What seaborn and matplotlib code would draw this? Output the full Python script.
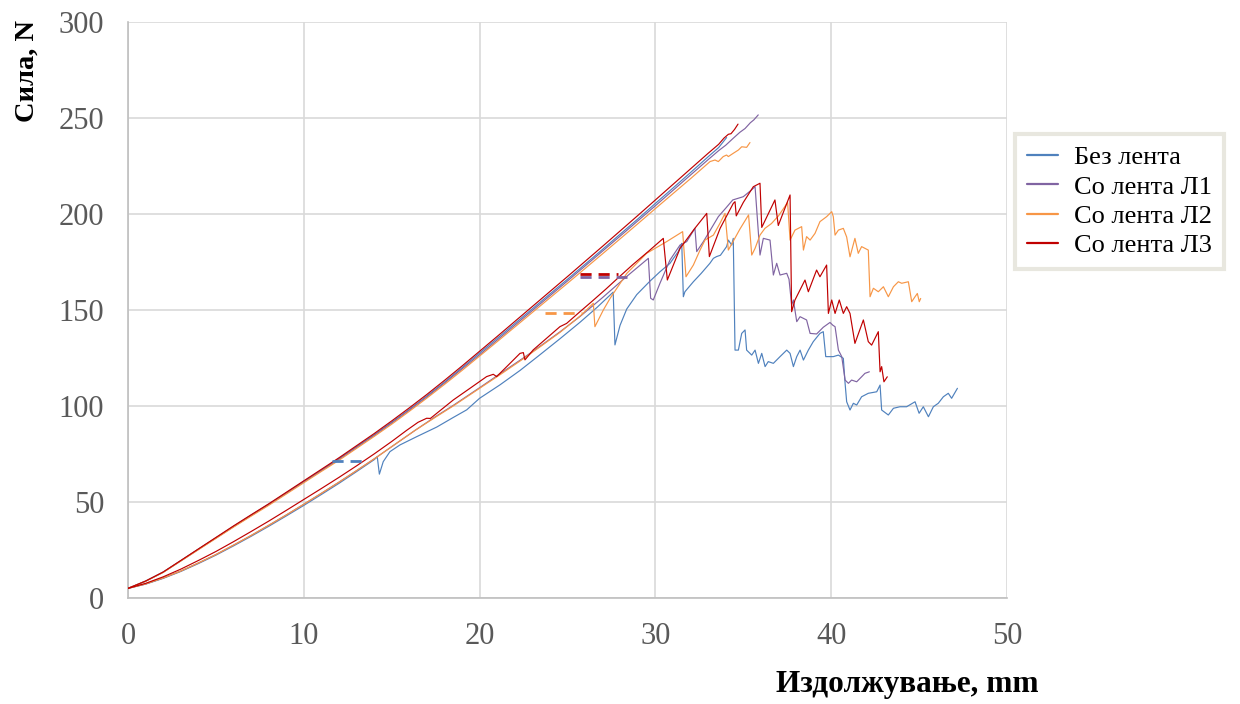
import matplotlib
matplotlib.use("Agg")
import matplotlib.pyplot as plt
import seaborn as sns
import pandas as pd
from matplotlib.lines import Line2D

# ---------------- data ----------------
SERIES = ["Без лента", "Со лента Л1", "Со лента Л2", "Со лента Л3"]
COLORS = ["#4F81BD", "#8064A2", "#F79646", "#C00000"]

X_TICKS = [0, 10, 20, 30, 40, 50]
Y_TICKS = [0, 50, 100, 150, 200, 250, 300]
X_LABEL = "Издолжување, mm"
Y_LABEL = "Сила, N"

# upper (first loading) branches
BLUE_UP = [(0,5),(1,8.8),(2,13.5),(3,19.4),(4,25.4),(5,31.3),(6,37.3),(7,43.1),(8,48.8),(9,54.7),
           (10,60.7),(11,66.6),(12,72.6),(13,78.8),(14,85),(15,91.5),(16,98.2),(17,105.2),(18,112.4),
           (19,119.9),(20,127.6),(21,135.2),(22,142.9),(23,150.6),(24,158.3),(25,166),(26,173.8),
           (27,181.6),(28,189.5),(29,197.4),(30,205.5),(31,213.5),(32,221.6),(33,229.8),(33.6,234.6),
           (34.05,239.8)]
PURPLE_UP = [(0,5),(1,8.7),(2,13.4),(3,19.3),(4,25.3),(5,31.2),(6,37.1),(7,42.9),(8,48.6),(9,54.5),
             (10,60.4),(11,66.3),(12,72.2),(13,78.4),(14,84.6),(15,91.1),(16,97.8),(17,104.7),(18,111.9),
             (19,119.3),(20,126.7),(21,134.3),(22,142),(23,149.7),(24,157.4),(25,165.1),(26,172.9),
             (27,180.7),(28,188.5),(29,196.4),(30,204.3),(31,212.3),(32,220.3),(33,228.3),(33.6,233),
             (34,235.8),(34.4,239.2),(34.8,242.5),(35.1,244.5),(35.4,247.5),(35.6,249),(35.85,251.6)]
ORANGE_UP = [(0,5),(1,8.7),(2,13.3),(3,19.2),(4,25.1),(5,31),(6,36.9),(7,42.6),(8,48.2),(9,54.1),
             (10,60),(11,65.9),(12,71.7),(13,77.9),(14,84.1),(15,90.5),(16,97.2),(17,104.1),(18,111.2),
             (19,118.5),(20,126),(21,133.5),(22,141.1),(23,148.7),(24,156.3),(25,163.9),(26,171.6),
             (27,179.3),(28,187.1),(29,194.9),(30,202.8),(31,210.6),(32,218.4),(33.11,227.3),
             (33.39,228.1),(33.58,227.3),(33.86,229.9),(34.05,230.7),(34.15,229.9),(34.43,231.6),
             (34.72,233.3),(34.91,235),(35.19,234.7),(35.38,237.2)]
RED_UP = [(0,5),(1,8.8),(2,13.5),(3,19.5),(4,25.5),(5,31.5),(6,37.5),(7,43.3),(8,49),(9,55),
          (10,61),(11,67),(12,73),(13,79.3),(14,85.6),(15,92.2),(16,99),(17,106),(18,113.3),
          (19,120.8),(20,128.5),(21,136.2),(22,144),(23,151.8),(24,159.6),(25,167.4),(26,175.3),
          (27,183.2),(28,191.2),(29,199.2),(30,207.3),(31,215.4),(32,223.5),(33,231.6),(33.6,236.3),
          (33.9,239.5),(34.15,241.5),(34.3,241.8),(34.5,244),(34.7,246.8)]

# lower (failure) branches
BLUE_LO = [(0,5),(1,7.2),(2,10.2),(3,13.8),(4,17.9),(5,22.3),(6,27.1),(7,32.1),(8,37.3),(9,42.7),
           (10,48.2),(11,53.9),(12,59.7),(13,65.8),(14.0,72),(14.18,73.5),(14.3,64.5),(14.52,71),
           (14.9,76.2),(15.47,79.7),(16.42,84),(17.56,89),(18.5,94),(19.27,98),(20,104),(21.16,111),
           (22.3,118.5),(23.34,126),(24.57,135),(25.7,143.5),(26.7,151.5),(27.6,159.3),(27.7,131.8),
           (27.99,142),(28.37,150.5),(28.94,158),(29.69,165),(30.26,169.9),(30.83,174.3),(31.3,180.4),
           (31.5,184.7),(31.59,156.9),(31.68,159.5),(32.16,164.7),(32.6,169),(33.1,174.3),(33.3,176.9),
           (33.48,177.8),(33.7,178.5),(34.05,183),(34.15,186.4),(34.34,183.8),(34.43,187.3),
           (34.53,129.1),(34.72,129.1),(34.91,137.8),(35.1,139.6),(35.19,129.1),(35.48,126.5),
           (35.67,129.1),(35.86,122.2),(36.05,127.4),(36.24,120.5),(36.42,123.1),(36.71,122.2),
           (37.09,125.7),(37.47,129.1),(37.66,127.4),(37.85,120.5),(38.04,125.7),(38.23,129.1),
           (38.42,123.9),(38.7,129.1),(38.98,133.5),(39.36,137.8),(39.55,138.7),(39.69,125.7),
           (40.12,125.7),(40.41,126.5),(40.69,124.8),(40.79,111.8),(40.88,102.2),(41.07,97.9),
           (41.26,101.4),(41.45,100.5),(41.73,104.8),(42.11,106.6),(42.59,107.4),(42.78,110.9),
           (42.87,97.9),(43.25,95.3),(43.54,98.8),(43.91,99.6),(44.29,99.6),(44.77,102.2),(45.0,96.2),
           (45.24,99.6),(45.53,94.4),(45.81,99.6),(46.09,101.4),(46.38,104.8),(46.66,106.6),
           (46.85,104),(47.18,109.2)]
PURPLE_LO = [(0,5),(1,7.3),(2,10.4),(3,14),(4,18.2),(5,22.6),(6,27.5),(7,32.5),(8,37.8),(9,43.2),
             (10,48.8),(11,54.5),(12,60.3),(13,66.3),(14,72.4),(15,78.8),(16.33,87.3),(17.5,94.5),
             (18.5,100.3),(20,109.5),(21.2,117),(22.49,125),(23.5,131.5),(24.57,138.6),(25.7,146.5),
             (27,156.5),(28.36,167.4),(29.0,172.3),(29.6,176.9),(29.73,156.1),(29.88,155.2),
             (30.26,163.9),(30.83,176),(31.4,183.8),(31.78,185.6),(32.25,192.5),(32.35,180.4),
             (32.73,185.6),(33.3,194.3),(33.58,198.6),(34.0,203),(34.4,207.3),(35.0,209),(35.4,212),
             (35.67,214.2),(35.95,178.6),(36.14,187.3),(36.52,186.4),(36.71,168.2),(36.9,174.3),
             (37.09,168.2),(37.47,169.1),(37.6,166),(37.75,152.6),(37.85,155.2),(38.04,143.9),
             (38.23,146.5),(38.6,144.8),(38.8,137.8),(39.17,137.5),(39.55,141),(39.93,143.5),
             (40.1,142),(40.22,141.3),(40.41,129.1),(40.6,125.7),(40.79,113.5),(40.98,111.8),
             (41.16,113.5),(41.45,112.6),(41.73,115.2),(41.92,117),(42.17,117.8)]
ORANGE_LO = [(0,5),(1,7.3),(2,10.4),(3,14),(4,18.2),(5,22.6),(6,27.5),(7,32.5),(8,37.8),(9,43.2),
             (10,48.8),(11,54.5),(12,60.3),(13,66.3),(14,72.4),(15,78.8),(16.33,87.3),(17.5,94.2),
             (18.5,100),(20,109.2),(21.2,116.5),(22.49,124.6),(23.5,131.2),(24.57,138.3),(25.8,147.5),
             (26.47,153.5),(26.56,141.3),(27.04,150),(27.42,156),(28.37,169),(29.5,179.5),
             (30.64,185.6),(31.55,190.8),(31.74,167.3),(32.16,173.4),(32.54,181.2),(32.82,186.4),
             (33.3,189),(33.67,195.1),(33.96,200.3),(34.15,181.2),(34.5,187),(34.8,192),(35.0,195),
             (35.3,199.5),(35.48,178.6),(35.67,182.1),(35.95,189),(36.23,192.5),(36.6,195),(37.0,199),
             (37.3,203),(37.52,206),(37.66,186.4),(37.94,191.6),(38.32,193.4),(38.42,181.2),
             (38.6,188.2),(38.8,186.4),(39.08,189.9),(39.36,196),(39.74,198.6),(40.03,201.2),
             (40.12,198.6),(40.22,189),(40.41,191.6),(40.69,192.5),(40.88,188),(41.07,177.7),
             (41.35,187.3),(41.54,179.5),(41.73,183),(42.11,181.2),(42.21,156.9),(42.4,161.3),
             (42.68,159.5),(42.97,162.1),(43.25,156.9),(43.54,162.1),(43.82,164.7),(44.01,163.9),
             (44.39,164.7),(44.58,154.3),(44.77,156.9),(44.9,158.6),(45.01,154.3),(45.09,156)]
RED_LO = [(0,5),(1,7.6),(2,11),(3,15),(4,19.5),(5,24.2),(6,29.3),(7,34.6),(8,40),(9,45.6),
          (10,51.3),(11,57),(12,62.8),(13,68.8),(14,75),(15,81.5),(15.85,87.3),(16.5,91.5),
          (16.99,93.6),(17.2,93.5),(18.5,103.1),(19.5,109.5),(20.4,115.3),(20.78,116.5),
          (20.97,115.3),(21.6,121),(22.3,127.4),(22.49,127.8),(22.58,124),(23.05,129.2),
          (24.57,141.3),(24.95,143),(25.71,149.1),(26.37,154.3),(27.2,161),(27.89,166.8),
          (28.7,173.5),(29.6,180.5),(30.45,187.3),(30.68,165.6),(31.4,182),(32.2,192),
          (32.92,200.3),(33.07,177.8),(33.68,192.5),(34.43,205.5),(34.53,206.4),(34.6,199),
          (35.0,206),(35.57,214.2),(35.95,216),(36.05,193),(36.8,207.3),(36.99,194),(37.66,209.9),
          (37.75,149.1),(37.94,155.2),(38.51,165.6),(38.7,159.5),(39.17,170.8),(39.36,167.3),
          (39.74,173.4),(39.84,148.2),(40.03,155.2),(40.22,148.2),(40.46,155.2),(40.69,148.2),
          (40.88,151.7),(41.07,148.2),(41.35,132.6),(41.83,144.8),(42.11,133.5),(42.3,131.7),
          (42.68,138.7),(42.78,117.8),(42.87,120.5),(43.0,112.6),(43.19,115.2)]

# dashed connectors
BLUE_DASH = [(11.6,71.5),(13.5,71.5)]
PURPLE_DASH = [(25.71,167.4),(28.36,167.4)]
ORANGE_DASH = [(23.72,148.4),(25.8,148.4)]
RED_DASH = [(25.71,168.7),(27.89,168.7)]

UPPER = [BLUE_UP, PURPLE_UP, ORANGE_UP, RED_UP]
LOWER = [BLUE_LO, PURPLE_LO, ORANGE_LO, RED_LO]
DASHES = [BLUE_DASH, PURPLE_DASH, ORANGE_DASH, RED_DASH]

# ---------------- build tidy frames ----------------
rows = []
for name, up, lo in zip(SERIES, UPPER, LOWER):
    for part, pts in (("up", up), ("lo", lo)):
        for x, y in pts:
            rows.append({"series": name, "part": part, "x": x, "y": y})
df = pd.DataFrame(rows)

drows = []
for name, pts in zip(SERIES, DASHES):
    for x, y in pts:
        drows.append({"series": name, "part": "dash", "x": x, "y": y})
dfd = pd.DataFrame(drows)

# ---------------- style ----------------
sns.set_style("white")
plt.rcParams["font.family"] = ["Liberation Serif", "DejaVu Serif"]
plt.rcParams["text.color"] = "black"

fig = plt.figure(figsize=(12.4, 7.04), dpi=100)
ax = fig.add_axes([0.1032, 0.1506, 0.7089, 0.8182])

palette = dict(zip(SERIES, COLORS))

sns.lineplot(data=df, x="x", y="y", hue="series", units="part", estimator=None, sort=False,
             palette=palette, hue_order=SERIES, linewidth=0.85, legend=False, ax=ax, zorder=3)
sns.lineplot(data=dfd, x="x", y="y", hue="series", units="part", estimator=None, sort=False,
             palette=palette, hue_order=SERIES, linewidth=2.0, linestyle=(0, (4, 2.5)),
             legend=False, ax=ax, zorder=3)

ax.set_xlim(0, 50)
ax.set_ylim(0, 300)
ax.set_xticks(X_TICKS)
ax.set_yticks(Y_TICKS)
ax.grid(True, color="#D9D9D9", linewidth=1.2, zorder=0)
ax.set_axisbelow(True)
for side in ("top", "right"):
    ax.spines[side].set_visible(False)
for side in ("left", "bottom"):
    ax.spines[side].set_color("#BFBFBF")
    ax.spines[side].set_linewidth(1.2)
ax.tick_params(axis="both", length=0, labelsize=22, labelcolor="#595959", pad=17)
ax.set_xlabel("")
ax.set_ylabel("")

fig.text(0.8371, 0.0284, X_LABEL, ha="right", va="center", fontsize=22.5, fontweight="bold",
         color="black")
fig.text(0.022, 0.972, Y_LABEL, ha="center", va="top", rotation=90, fontsize=20.5,
         fontweight="bold", color="black")

handles = [Line2D([0], [0], color=c, lw=1.6) for c in COLORS]
leg = fig.legend(handles, SERIES, loc="upper left", bbox_to_anchor=(0.8185, 0.8097),
                 frameon=True, fancybox=False, fontsize=19, handlelength=1.2,
                 handletextpad=0.6, labelspacing=0.22, borderpad=0.45, borderaxespad=0,
                 labelcolor="black")
leg.get_frame().set_edgecolor("#E3E1D8")
leg.get_frame().set_linewidth(3)

fig.savefig("out.png", dpi=100)
